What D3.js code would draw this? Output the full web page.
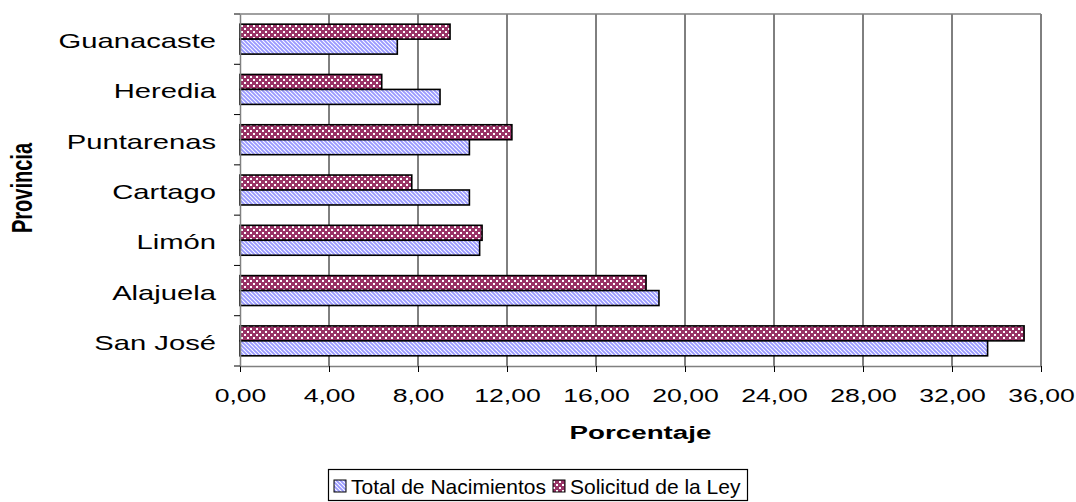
<!DOCTYPE html>
<html>
<head>
<meta charset="utf-8">
<script src="https://cdn.jsdelivr.net/npm/d3@7"></script>
<style>
  body { margin: 0; background: #fff; }
  svg { display: block; font-family: "Liberation Sans", Arial, sans-serif; }
</style>
</head>
<body>
<div id="chart"></div>
<script>
// data (percent)
var provincias = ["Guanacaste", "Heredia", "Puntarenas", "Cartago", "Limón", "Alajuela", "San José"];
var totalNacimientos = [7.07, 8.99, 10.31, 10.31, 10.77, 18.83, 33.60];
var solicitudLey = [9.44, 6.37, 12.22, 7.72, 10.88, 18.25, 35.24];
var seriesNames = ["Total de Nacimientos", "Solicitud de la Ley"];
var xTicks = [0, 4, 8, 12, 16, 20, 24, 28, 32, 36];

var W = 1076, H = 502;
var plot = { left: 240, right: 1041, top: 14, bottom: 366 };
var stretch = 1.46; // the original text is drawn wide

var svg = d3.select("#chart").append("svg")
  .attr("width", W)
  .attr("height", H);

// fill patterns
var defs = svg.append("defs");
var pBlue = defs.append("pattern")
  .attr("id", "patBlue")
  .attr("patternUnits", "userSpaceOnUse")
  .attr("width", 4).attr("height", 4);
pBlue.append("rect").attr("width", 4).attr("height", 4).attr("fill", "#fff");
pBlue.append("path")
  .attr("d", "M-1,-1 L5,5 M-1,3 L1,5 M3,-1 L5,1")
  .attr("stroke", "#9999ff").attr("stroke-width", 1.9);

var pPink = defs.append("pattern")
  .attr("id", "patPink")
  .attr("patternUnits", "userSpaceOnUse")
  .attr("width", 6).attr("height", 6);
pPink.append("rect").attr("width", 6).attr("height", 6).attr("fill", "#993366");
pPink.append("rect").attr("x", 1).attr("y", 1).attr("width", 2).attr("height", 2).attr("fill", "#fff");
pPink.append("rect").attr("x", 4).attr("y", 4).attr("width", 2).attr("height", 2).attr("fill", "#fff");

var x = d3.scaleLinear().domain([0, 36]).range([plot.left, plot.right]);
var y = d3.scaleBand().domain(provincias).range([plot.top, plot.bottom]).paddingInner(0).paddingOuter(0);
var inner = d3.scaleBand().domain(["sol", "tot"]).range([0, y.bandwidth()]).paddingOuter(0.68).paddingInner(0);

// gridlines
svg.append("g").selectAll("line")
  .data(xTicks.slice(1))
  .enter().append("line")
  .attr("x1", function (d) { return x(d); })
  .attr("x2", function (d) { return x(d); })
  .attr("y1", plot.top).attr("y2", plot.bottom)
  .attr("stroke", "#000").attr("stroke-width", 1);

// top frame line
svg.append("line")
  .attr("x1", plot.left).attr("x2", plot.right)
  .attr("y1", plot.top).attr("y2", plot.top)
  .attr("stroke", "#808080").attr("stroke-width", 1.5);

// bars
var rows = provincias.map(function (p, i) {
  return { name: p, tot: totalNacimientos[i], sol: solicitudLey[i] };
});
var g = svg.append("g");
g.selectAll(".barSol")
  .data(rows).enter().append("rect")
  .attr("class", "barSol")
  .attr("x", x(0))
  .attr("y", function (d) { return y(d.name) + inner("sol"); })
  .attr("width", function (d) { return x(d.sol) - x(0); })
  .attr("height", inner.bandwidth())
  .attr("fill", "url(#patPink)")
  .attr("stroke", "#000").attr("stroke-width", 1.6);
g.selectAll(".barTot")
  .data(rows).enter().append("rect")
  .attr("class", "barTot")
  .attr("x", x(0))
  .attr("y", function (d) { return y(d.name) + inner("tot"); })
  .attr("width", function (d) { return x(d.tot) - x(0); })
  .attr("height", inner.bandwidth())
  .attr("fill", "url(#patBlue)")
  .attr("stroke", "#000").attr("stroke-width", 1.6);

// x axis
var fmt = function (d) { return d3.format(".2f")(d).replace(".", ","); };
var xAxis = svg.append("g")
  .attr("transform", "translate(0," + plot.bottom + ")")
  .call(d3.axisBottom(x).tickValues(xTicks).tickFormat(fmt).tickSize(6).tickSizeOuter(0));
xAxis.select(".domain").attr("stroke", "#808080").attr("stroke-width", 1.5);
xAxis.selectAll(".tick line").attr("stroke", "#000");
xAxis.selectAll("text")
  .attr("font-size", 19).attr("fill", "#000")
  .attr("dy", 0).attr("y", 0)
  .attr("transform", "translate(0,36) scale(" + (stretch - 0.06) + ",1)")
  .attr("font-family", "'Liberation Sans', Arial, sans-serif");

// y axis
var yAxis = svg.append("g")
  .attr("transform", "translate(" + plot.left + ",0)")
  .call(d3.axisLeft(y).tickSize(0).tickSizeOuter(0));
yAxis.select(".domain").attr("stroke", "#808080").attr("stroke-width", 1.5);
yAxis.selectAll("text")
  .attr("font-size", 20).attr("fill", "#000")
  .attr("x", 0).attr("dy", "0.35em")
  .attr("transform", "translate(-24,2) scale(" + stretch + ",1)")
  .attr("font-family", "'Liberation Sans', Arial, sans-serif");
// category separator ticks
svg.append("g").selectAll("line")
  .data(d3.range(provincias.length + 1))
  .enter().append("line")
  .attr("x1", plot.left - 6).attr("x2", plot.left)
  .attr("y1", function (i) { return plot.top + i * y.step(); })
  .attr("y2", function (i) { return plot.top + i * y.step(); })
  .attr("stroke", "#000");

// axis titles
svg.append("text")
  .attr("transform", "translate(" + ((plot.left + plot.right) / 2) + ",439) scale(" + stretch + ",1)")
  .attr("text-anchor", "middle")
  .attr("font-size", 19).attr("font-weight", "bold")
  .text("Porcentaje");
svg.append("text")
  .attr("transform", "translate(32,188) scale(" + stretch + ",1) rotate(-90)")
  .attr("text-anchor", "middle")
  .attr("font-size", 20).attr("font-weight", "bold")
  .text("Provincia");

// legend
var leg = svg.append("g");
leg.append("rect")
  .attr("x", 328.5).attr("y", 469.5).attr("width", 419).attr("height", 31)
  .attr("fill", "#fff").attr("stroke", "#000").attr("stroke-width", 1.2);
var legItems = [
  { name: seriesNames[0], fill: "url(#patBlue)", x: 334 },
  { name: seriesNames[1], fill: "url(#patPink)", x: 553 }
];
leg.selectAll(".lk").data(legItems).enter().append("rect")
  .attr("x", function (d) { return d.x; }).attr("y", 480)
  .attr("width", 12).attr("height", 12)
  .attr("fill", function (d) { return d.fill; })
  .attr("stroke", "#000").attr("stroke-width", 1);
leg.selectAll(".lt").data(legItems).enter().append("text")
  .attr("x", function (d) { return d.x + 17; }).attr("y", 494)
  .attr("font-size", 21)
  .text(function (d) { return d.name; });
</script>
</body>
</html>
